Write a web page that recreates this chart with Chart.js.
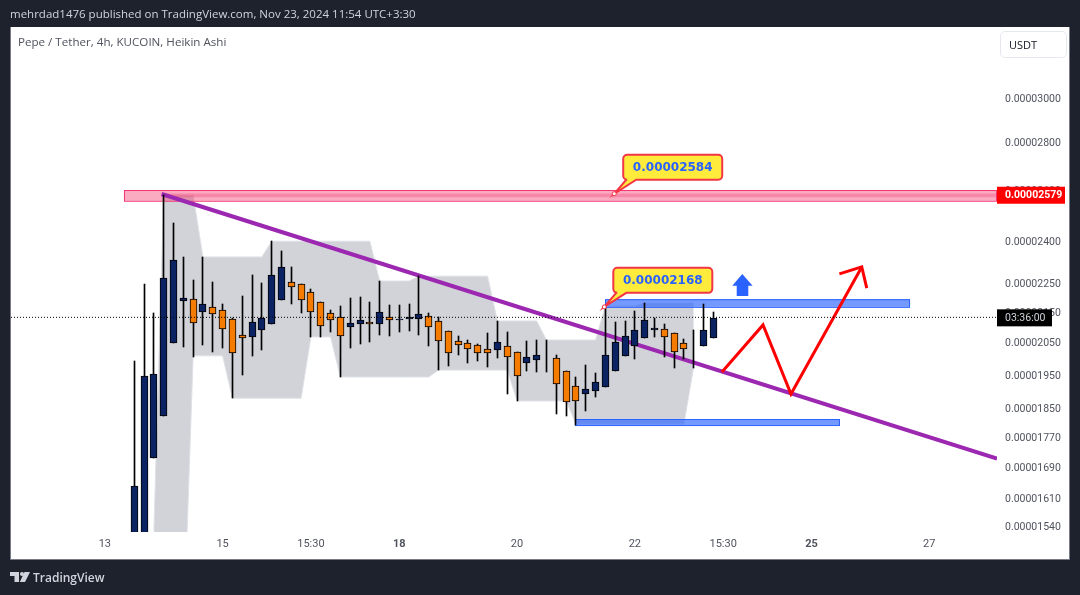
<!DOCTYPE html>
<html>
<head>
<meta charset="utf-8">
<title>Pepe / Tether</title>
<script src="https://cdn.jsdelivr.net/npm/chart.js@4"></script>
<style>
  html, body { margin: 0; padding: 0; width: 1080px; height: 595px; background: #1e222d; overflow: hidden; }
  #card { position: absolute; left: 10px; top: 27px; width: 1058px; height: 531px; background: #fff; border: 1px solid #787b86; border-top: 0; padding-top: 1px; }
  canvas { position: absolute; left: 0; top: 0; }
  .txt { position: absolute; white-space: nowrap; font-family: "Open Sans", sans-serif; }
  #published { left: 10px; top: 6px; font-size: 11.5px; color: #d1d4dc; }
  #symbol { left: 18px; top: 34px; font-size: 11.6px; color: #50535e; }
  #usdt { left: 1000px; top: 31px; width: 65px; height: 25px; border: 1px solid #e6e8ee; border-radius: 5px; font-size: 11px; line-height: 25px; color: #131722; text-indent: 8px; box-sizing: content-box; }
  #brand { left: 33px; top: 569px; font-size: 12px; font-weight: 600; color: #d1d4dc; }
  #logo { position: absolute; left: 10px; top: 572px; }
</style>
</head>
<body>
<div id="card"></div>
<canvas id="chart" width="1080" height="595"></canvas>
<div class="txt" id="published">mehrdad1476 published on TradingView.com, Nov 23, 2024 11:54 UTC+3:30</div>
<div class="txt" id="symbol">Pepe / Tether, 4h, KUCOIN, Heikin Ashi</div>
<div class="txt" id="usdt">USDT</div>
<svg id="logo" width="20" height="10" viewBox="0 0 20 10"><path d="M0 0H9V10H4.5V4H0Z M14.5 0H20L15 10H9.8Z" fill="#d1d4dc"/><circle cx="12" cy="2" r="2" fill="#d1d4dc"/></svg>
<div class="txt" id="brand">TradingView</div>

<script>
// prices are in units of 0.00000001 USDT
const opens = [1407, 1450, 1713, 1830, 2050, 2188, 2194, 2151, 2168, 2158,
  2128, 2075, 2069, 2092, 2111, 2191, 2253, 2246, 2219, 2184,
  2148, 2134, 2101, 2111, 2118, 2111, 2134, 2124, 2128, 2128,
  2138, 2121, 2088, 2056, 2050, 2043, 2031, 2028, 2040, 2021,
  1987, 1996, 2004, 2002, 1962, 1917, 1893, 1902, 1914, 1962,
  2009, 2040, 2066, 2092, 2095, 2082, 2050, 2039, 2040, 2066];
const closes = [1641, 1947, 1953, 2267, 2332, 2198, 2115, 2178, 2145, 2095,
  2018, 2066, 2118, 2131, 2278, 2307, 2236, 2191, 2151, 2105,
  2124, 2072, 2115, 2124, 2111, 2151, 2124, 2128, 2134, 2145,
  2101, 2056, 2018, 2043, 2031, 2018, 2018, 2053, 2005, 1947,
  2005, 2012, 2005, 1923, 1870, 1873, 1908, 1929, 2012, 2053,
  2072, 2092, 2124, 2098, 2069, 2021, 2031, 2040, 2092, 2131];
const highs = [1993, 2246, 2148, 2579, 2470, 2343, 2260, 2343, 2253, 2178,
  2131, 2205, 2278, 2250, 2401, 2365, 2307, 2246, 2229, 2184,
  2158, 2171, 2198, 2201, 2184, 2257, 2174, 2174, 2178, 2274,
  2148, 2134, 2088, 2072, 2059, 2046, 2082, 2121, 2085, 2021,
  2056, 2059, 2059, 2012, 1962, 1944, 1981, 1956, 2174, 2118,
  2121, 2155, 2181, 2131, 2111, 2082, 2062, 2092, 2178, 2151];
const lows = [1407, 1450, 1713, 1830, 2050, 2037, 2005, 2043, 2021, 2034,
  1881, 1950, 2009, 2028, 2111, 2191, 2178, 2148, 2069, 2069,
  2085, 1944, 2034, 2046, 2053, 2075, 2072, 2085, 2088, 2075,
  2040, 1965, 1978, 2012, 1987, 1993, 1975, 2002, 1893, 1873,
  1962, 1959, 1959, 1836, 1830, 1804, 1844, 1884, 1914, 1962,
  2009, 1999, 2066, 2069, 2005, 1972, 1999, 1972, 2040, 2066];

// grey channel, bars 2 to 57
const bandStart = 2;
const bandUpper = [1531, 2579, 2579, 2579, 2579, 2343, 2343, 2343, 2343, 2343, 2343, 2343,
  2401, 2401, 2401, 2401, 2401, 2401, 2401, 2401, 2401, 2401, 2401,
  2257, 2257, 2257, 2257, 2274, 2274, 2274, 2274, 2274, 2274, 2274, 2274,
  2121, 2121, 2121, 2121, 2121, 2059, 2059, 2059, 2059, 2059, 2059,
  2171, 2171, 2171, 2171, 2181, 2181, 2181, 2181, 2181, 2181];
const bandLower = [1289, 1289, 1289, 1289, 2009, 2009, 2009, 2009,
  1881, 1881, 1881, 1881, 1881, 1881, 1881, 1881, 2069, 2069, 2069,
  1944, 1944, 1944, 1944, 1944, 1944, 1944, 1944, 1944, 1944,
  1965, 1965, 1965, 1965, 1965, 1965, 1965, 1965,
  1873, 1873, 1873, 1873, 1873, 1873,
  1807, 1807, 1807, 1807, 1807, 1807, 1807, 1807, 1807, 1807, 1807, 1807, 1975];

const yTicks = [3000, 2800, 2600, 2400, 2250, 2150, 2050, 1950, 1850, 1770, 1690, 1610, 1540];
const xTickBars = [-3, 9, 18, 27, 39, 51, 60, 69, 81];
const xTickLabels = ["13", "15", "15:30", "18", "20", "22", "15:30", "25", "27"];
const boldLabels = ["18", "25"];

const xMin = -12.56;
const xMax = 87.9;

// drawings, in bar index / price
const trendX = [2.79, 87.9];
const trendY = [2584, 1712];
const arrowX = [59.88, 64.06, 66.91, 74.12];
const arrowY = [1959, 2108, 1893, 2307];
const arrowHeadX = [71.84, 74.12, 74.63];
const arrowHeadY = [2282, 2307, 2232];
const upArrowX = [61.95, 60.93, 61.38, 61.38, 62.56, 62.56, 63.0];
const upArrowY = [2282, 2240, 2240, 2205, 2205, 2240, 2240];
const lastPrice = 2133;
const resistance = 2579;
const countdown = "03:36:00";

const navy = "#0b2362";
const orange = "#f57c00";
const fmt = v => (v / 1e8).toFixed(8);

const boxes = [
  { x0: -1.05, x1: 87.9, top: 2600, bottom: 2557, fill: "rgba(242,54,110,0.42)", line: "#f23672" },
  { x0: 47.96, x1: 79.04, top: 2194, bottom: 2168, fill: "rgba(41,98,255,0.65)", line: "#2962ff" },
  { x0: 44.9, x1: 71.9, top: 1821, bottom: 1804, fill: "rgba(41,98,255,0.65)", line: "#2962ff" }
];
const stripe = { x0: 2.79, x1: 87.9, top: 2586, bottom: 2571, fill: "rgba(242,54,110,0.3)" };
const callouts = [
  { bar: 48.9, price: 2585, text: "0.00002584" },
  { bar: 47.89, price: 2168, text: "0.00002168" }
];

const drawings = {
  id: "drawings",
  afterDatasetsUpdate(chart) {
    // snap candles to whole pixels so the 1px outlines stay sharp
    chart.data.datasets.forEach((ds, i) => {
      if (ds.label !== "wicks" && ds.label !== "candles") return;
      chart.getDatasetMeta(i).data.forEach(el => {
        el.x = Math.floor(el.x) + 0.5;
        el.y = Math.round(el.y);
        el.base = Math.round(el.base);
      });
    });
  },
  beforeDatasetDraw(chart, args) {
    if (args.meta.label !== "trend") return;
    const { ctx, scales: { x, y } } = chart;
    ctx.save();
    boxes.forEach(b => {
      const left = x.getPixelForValue(b.x0), right = x.getPixelForValue(b.x1);
      const top = y.getPixelForValue(b.top), bottom = y.getPixelForValue(b.bottom);
      ctx.fillStyle = b.fill;
      ctx.fillRect(left, top, right - left, bottom - top);
      ctx.strokeStyle = b.line;
      ctx.lineWidth = 1;
      ctx.strokeRect(left + 0.5, top + 0.5, right - left - 1, bottom - top);
    });
    ctx.fillStyle = stripe.fill;
    ctx.fillRect(x.getPixelForValue(stripe.x0), y.getPixelForValue(stripe.top),
      x.getPixelForValue(stripe.x1) - x.getPixelForValue(stripe.x0),
      y.getPixelForValue(stripe.bottom) - y.getPixelForValue(stripe.top));
    ctx.restore();
  },
  afterDraw(chart) {
    const { ctx, chartArea, scales: { x, y } } = chart;
    ctx.save();
    // blue up arrow
    ctx.fillStyle = "#2962ff";
    ctx.beginPath();
    upArrowX.forEach((v, i) => {
      const px = x.getPixelForValue(v), py = y.getPixelForValue(upArrowY[i]);
      i ? ctx.lineTo(px, py) : ctx.moveTo(px, py);
    });
    ctx.closePath();
    ctx.fill();

    // callouts
    callouts.forEach(c => {
      const ax = x.getPixelForValue(c.bar), ay = y.getPixelForValue(c.price);
      const bx = ax + 9, by = ay - 39, w = 99, h = 25, r = 4;
      ctx.beginPath();
      ctx.moveTo(bx + r, by);
      ctx.lineTo(bx + w - r, by);
      ctx.arcTo(bx + w, by, bx + w, by + r, r);
      ctx.lineTo(bx + w, by + h - r);
      ctx.arcTo(bx + w, by + h, bx + w - r, by + h, r);
      ctx.lineTo(bx + 13, by + h);
      ctx.lineTo(ax, ay);
      ctx.lineTo(bx + 3, by + h);
      ctx.lineTo(bx + r, by + h);
      ctx.arcTo(bx, by + h, bx, by + h - r, r);
      ctx.lineTo(bx, by + r);
      ctx.arcTo(bx, by, bx + r, by, r);
      ctx.closePath();
      ctx.fillStyle = "#ffeb3b";
      ctx.fill();
      ctx.lineWidth = 2;
      ctx.strokeStyle = "#f23645";
      ctx.stroke();
      ctx.beginPath();
      ctx.arc(ax, ay, 2, 0, Math.PI * 2);
      ctx.fillStyle = "#fff";
      ctx.fill();
      ctx.lineWidth = 1;
      ctx.stroke();
      ctx.fillStyle = "#2962ff";
      ctx.font = 'bold 12px "DejaVu Sans"';
      ctx.textAlign = "center";
      ctx.textBaseline = "middle";
      ctx.fillText(c.text, bx + w / 2, by + h / 2 + 0.5);
    });

    // price axis labels
    const left = chartArea.right;
    const redY = y.getPixelForValue(resistance);
    ctx.fillStyle = "#ff0000";
    ctx.fillRect(left, redY - 8.5, 68, 17);
    ctx.fillStyle = "#fff";
    ctx.font = 'bold 10.5px Roboto';
    ctx.textAlign = "left";
    ctx.textBaseline = "middle";
    ctx.fillText(fmt(resistance), left + 8, redY + 0.5);
    const lastY = y.getPixelForValue(lastPrice);
    ctx.fillStyle = "#000";
    ctx.fillRect(left, lastY - 8, 55, 17);
    ctx.fillStyle = "#d1d4dc";
    ctx.font = '10.5px Roboto';
    ctx.fillText(countdown, left + 8, lastY + 1);
    ctx.restore();
  }
};

new Chart(document.getElementById("chart"), {
  type: "bar",
  data: {
    datasets: [
      {
        type: "line", label: "upper", order: 20,
        data: bandUpper.map((v, i) => ({ x: i + bandStart, y: v })),
        borderColor: "#dfe1e6", borderWidth: 1, pointRadius: 0,
        backgroundColor: "#d1d3d8", fill: "+1"
      },
      {
        type: "line", label: "lower", order: 19,
        data: bandLower.map((v, i) => ({ x: i + bandStart, y: v })),
        borderColor: "#dfe1e6", borderWidth: 1, pointRadius: 0, fill: false
      },
      {
        type: "line", label: "trend", order: 10,
        data: trendX.map((v, i) => ({ x: v, y: trendY[i] })),
        borderColor: "#9c27b0", borderWidth: 4, pointRadius: 0, fill: false
      },
      {
        label: "wicks", order: 6, grouped: false, barThickness: 1,
        data: highs.map((v, i) => ({ x: i, y: [lows[i], v] })),
        backgroundColor: "#000", borderWidth: 0
      },
      {
        label: "candles", order: 5, grouped: false, barThickness: 7,
        data: closes.map((v, i) => ({ x: i, y: [opens[i], v] })),
        backgroundColor: closes.map((v, i) => (v >= opens[i] ? navy : orange)),
        borderColor: "#000", borderWidth: 1, borderSkipped: false
      },
      {
        type: "line", label: "arrow", order: 2,
        data: arrowX.map((v, i) => ({ x: v, y: arrowY[i] })),
        borderColor: "#ff0000", borderWidth: 3, pointRadius: 0, fill: false
      },
      {
        type: "line", label: "arrow head", order: 2,
        data: arrowHeadX.map((v, i) => ({ x: v, y: arrowHeadY[i] })),
        borderColor: "#ff0000", borderWidth: 3, pointRadius: 0, fill: false
      },
      {
        type: "line", label: "last", order: 1,
        data: [{ x: xMin, y: lastPrice }, { x: xMax, y: lastPrice }],
        borderColor: "#000", borderWidth: 1, borderDash: [1, 2], pointRadius: 0, fill: false
      }
    ]
  },
  options: {
    responsive: false,
    animation: false,
    events: [],
    layout: { padding: { left: 11, top: 28, right: 11, bottom: 36 } },
    plugins: { legend: { display: false }, tooltip: { enabled: false } },
    scales: {
      x: {
        type: "linear",
        min: xMin,
        max: xMax,
        offset: false,
        grid: { display: false, drawTicks: false, tickLength: 0 },
        border: { display: false },
        afterFit: s => { s.height = 27; },
        afterBuildTicks: s => { s.ticks = xTickBars.map(v => ({ value: v })); },
        ticks: {
          autoSkip: false,
          maxRotation: 0,
          padding: 6,
          color: "#50535e",
          font: c => ({ family: "Roboto", size: 11, weight: boldLabels.includes(c.tick && c.tick.label) ? "bold" : "normal" }),
          callback: v => xTickLabels[xTickBars.indexOf(v)]
        }
      },
      y: {
        type: "logarithmic",
        position: "right",
        min: 1527.6,
        max: 3345,
        grid: { display: false, drawTicks: false, tickLength: 0 },
        border: { display: false },
        afterFit: s => { s.width = 72; },
        afterBuildTicks: s => { s.ticks = yTicks.map(v => ({ value: v })); },
        ticks: {
          autoSkip: false,
          padding: 8,
          crossAlign: "near",
          labelOffset: 1,
          color: "#50535e",
          font: { family: "Roboto", size: 10.5 },
          callback: v => fmt(v)
        }
      }
    }
  },
  plugins: [drawings]
});
</script>
</body>
</html>
